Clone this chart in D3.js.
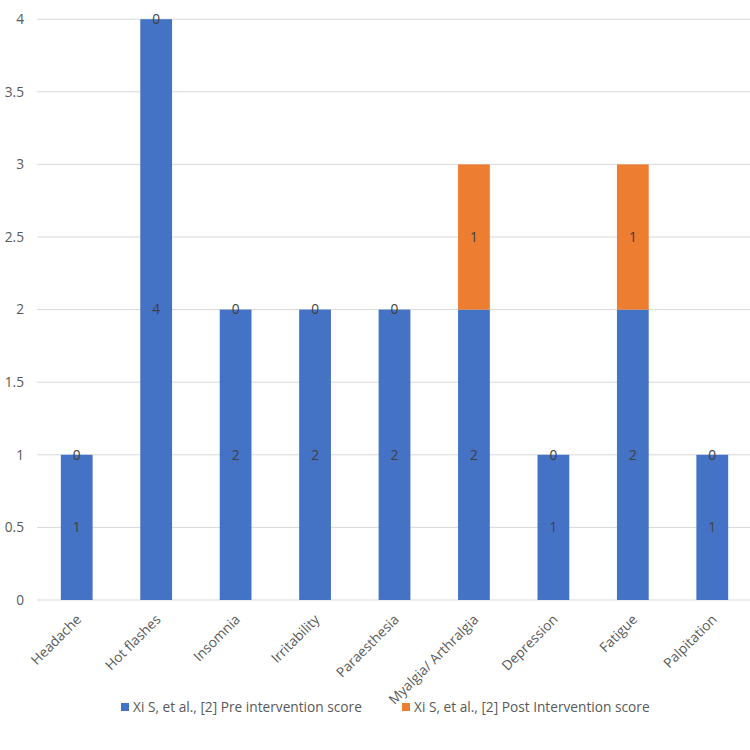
<!DOCTYPE html>
<html><head><meta charset="utf-8">
<script src="https://cdn.jsdelivr.net/npm/d3@7"></script>
<style>body{margin:0;background:#fff}svg{display:block}</style>
</head><body><svg id="c" width="750" height="750"></svg>
<script>
const categories = ["Headache","Hot flashes","Insomnia","Irritability","Paraesthesia","Myalgia/ Arthralgia","Depression","Fatigue","Palpitation"];
const preScores = [1,4,2,2,2,2,1,2,1];
const postScores = [0,0,0,0,0,1,0,1,0];
const seriesNames = ["Xi S, et al., [2] Pre intervention score","Xi S, et al., [2] Post Intervention score"];
const yTicks = [0,0.5,1,1.5,2,2.5,3,3.5,4];
const colors = ["#4472C4","#ED7D31"];

const svg = d3.select("#c");
const font = "'Open Sans', sans-serif";
const fs = 13.7;
const x = d3.scaleBand().domain(categories).range([37,752]).paddingInner(0.6).paddingOuter(0.3);
const y = d3.scaleLinear().domain([0,4]).range([600,19.2]);

svg.append("g").selectAll("line").data(yTicks).join("line")
  .attr("x1",37).attr("x2",750).attr("y1",d=>y(d)).attr("y2",d=>y(d))
  .attr("stroke","#d9d9d9").attr("stroke-width",1);

svg.append("g").selectAll("text").data(yTicks).join("text")
  .attr("x",24).attr("y",d=>y(d)).attr("dy","0.35em").attr("text-anchor","end")
  .attr("font-family",font).attr("font-size",fs).attr("fill","#595959").text(d=>d);

const data = categories.map((c,i)=>({c, pre:preScores[i], post:postScores[i]}));
const stack = d3.stack().keys(["pre","post"])(data);

const g = svg.append("g");
stack.forEach((s,si)=>{
  g.append("g").selectAll("rect").data(s).join("rect")
    .attr("x",d=>x(d.data.c)).attr("width",x.bandwidth())
    .attr("y",d=>y(d[1])).attr("height",d=>y(d[0])-y(d[1]))
    .attr("fill",colors[si]);
});
stack.forEach((s,si)=>{
  g.append("g").selectAll("text").data(s).join("text")
    .attr("x",d=>x(d.data.c)+x.bandwidth()/2).attr("y",d=>y((d[0]+d[1])/2))
    .attr("dy","0.35em").attr("text-anchor","middle")
    .attr("font-family",font).attr("font-size",fs).attr("fill","#404040")
    .text(d=>d[1]-d[0]);
});

svg.append("g").selectAll("text").data(categories).join("text")
  .attr("transform",d=>`translate(${x(d)+x.bandwidth()/2+2},${617}) rotate(-45)`)
  .attr("text-anchor","end").attr("dy","0.35em")
  .attr("font-family",font).attr("font-size",fs).attr("fill","#595959").text(d=>d);

const leg = svg.append("g");
const legX = [121,402];
seriesNames.forEach((n,i)=>{
  leg.append("rect").attr("x",legX[i]).attr("y",703).attr("width",8).attr("height",8).attr("fill",colors[i]);
  leg.append("text").attr("x",legX[i]+12).attr("y",707).attr("dy","0.35em")
    .attr("font-family",font).attr("font-size",fs).attr("fill","#595959").text(n);
});
</script></body></html>
